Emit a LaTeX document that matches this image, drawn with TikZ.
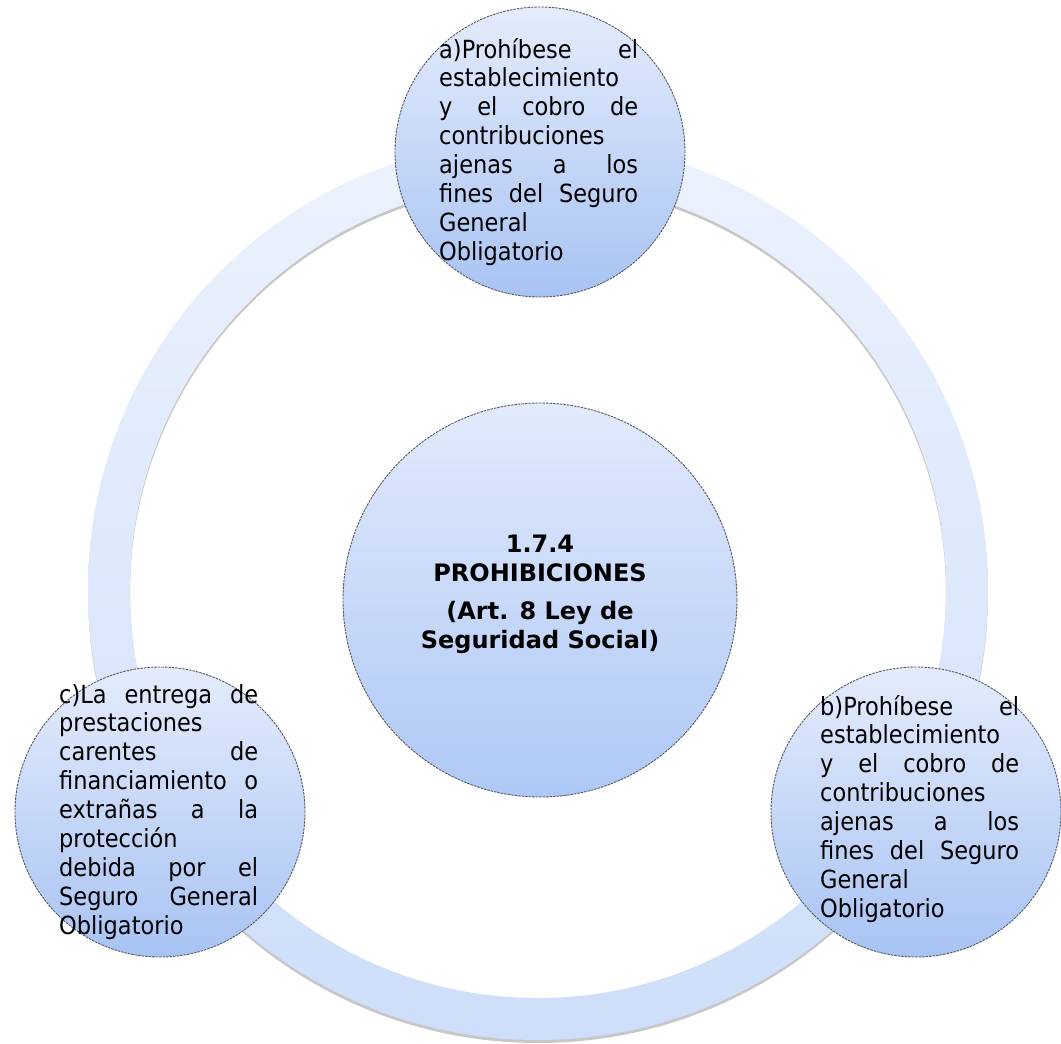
\documentclass[tikz,border=0pt]{standalone}
\usepackage{fontspec}
\setmainfont{DejaVu Sans}
\newfontfamily\bodyfont[FakeStretch=0.9]{DejaVu Sans}
\usetikzlibrary{calc}

% one justified line and one flush-left line of a paragraph
\newcommand\jline[1]{\makebox[\linewidth][s]{#1}\par}
\newcommand\lline[1]{#1\par}

\definecolor{ringtop}{RGB}{236,242,253}
\definecolor{ringbot}{RGB}{206,222,250}
\definecolor{bubtop}{RGB}{228,236,252}
\definecolor{bubbot}{RGB}{168,195,243}
\definecolor{hubtop}{RGB}{226,234,252}
\definecolor{hubbot}{RGB}{174,200,246}
\definecolor{rimline}{RGB}{85,90,100}

\tikzset{
  bubble/.style={circle, draw=rimline, dash pattern=on 2.5pt off 1pt,
    line width=0.9pt, top color=bubtop, bottom color=bubbot,
    minimum size=290pt, inner sep=0pt},
  hub/.style={bubble, top color=hubtop, bottom color=hubbot, minimum size=394pt},
  bodytext/.style={anchor=base west, inner sep=0pt,
    font=\bodyfont\fontsize{25}{28.9}\selectfont},
  hubtext/.style={anchor=base, inner sep=0pt,
    font=\fontsize{24}{29}\selectfont\bfseries}
}

\begin{document}
\begin{tikzpicture}[x=1pt, y=-1pt]
  \useasboundingbox (0,0) rectangle (1061,1044);

  % the ring behind the circles, with its soft shadow
  \fill[black, opacity=0.22, even odd rule]
    (538,593) circle[radius=450pt] (538,593) circle[radius=408pt];
  \shade[top color=ringtop, bottom color=ringbot, even odd rule]
    (538,590) circle[radius=450pt] (538,590) circle[radius=408pt];

  % centre
  \node[hub] (hub) at (540,600) {};
  \node[hubtext] (hubtxt) at (540,552) {\parbox[t]{300pt}{\centering
    1.7.4\\PROHIBICIONES\par\vspace{9pt}
    (Art. 8 Ley de\\Seguridad Social)}};

  % three satellites
  \node[bubble] (a) at (540,152) {};
  \node[bubble] (b) at (916,812) {};
  \node[bubble] (c) at (160,812) {};

  \node[bodytext] (atxt) at (439,58) {\parbox[t]{199pt}{%
    \jline{a)Prohíbese el}
    \lline{establecimiento}
    \jline{y el cobro de}
    \lline{contribuciones}
    \jline{ajenas a los}
    \jline{fines del Seguro}
    \lline{General}
    \lline{Obligatorio}}};

  \node[bodytext] (btxt) at (820,715) {\parbox[t]{199pt}{%
    \jline{b)Prohíbese el}
    \lline{establecimiento}
    \jline{y el cobro de}
    \lline{contribuciones}
    \jline{ajenas a los}
    \jline{fines del Seguro}
    \lline{General}
    \lline{Obligatorio}}};

  \node[bodytext] (ctxt) at (59,703) {\parbox[t]{199pt}{%
    \jline{c)La entrega de}
    \lline{prestaciones}
    \jline{carentes de}
    \jline{financiamiento o}
    \jline{extrañas a la}
    \lline{protección}
    \jline{debida por el}
    \jline{Seguro General}
    \lline{Obligatorio}}};
\end{tikzpicture}
\end{document}
